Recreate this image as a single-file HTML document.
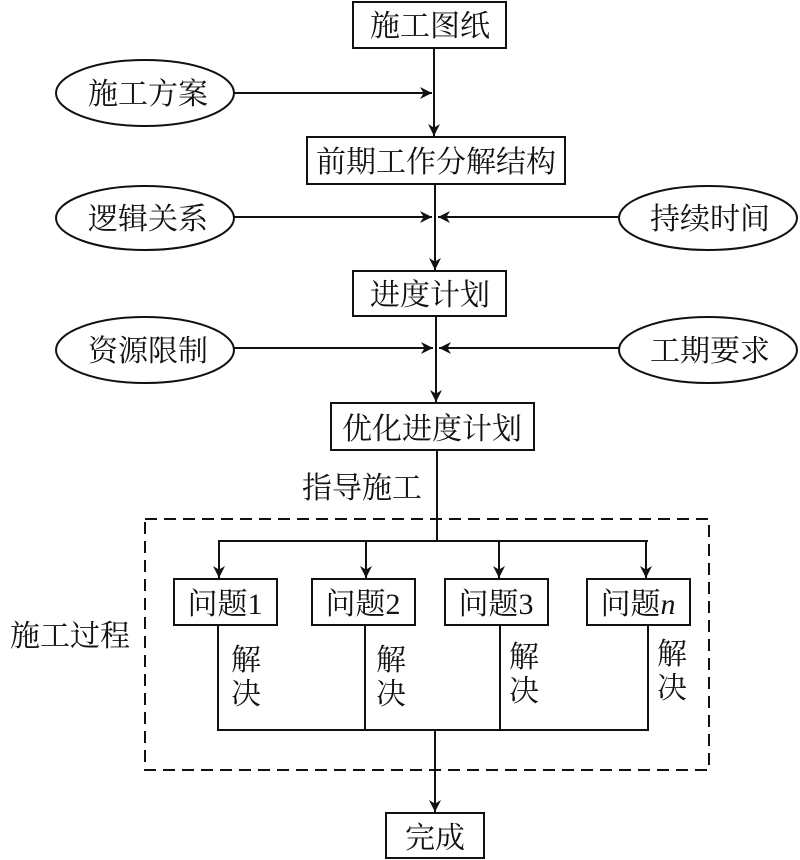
<!DOCTYPE html>
<html><head><meta charset="utf-8"><style>
html,body{margin:0;padding:0;background:#fff;}
svg{display:block;}
text{font-family:"Liberation Serif","Noto Serif CJK SC",serif;font-size:30px;fill:#111;}
</style></head><body>
<svg width="800" height="860" viewBox="0 0 800 860" xmlns="http://www.w3.org/2000/svg">
<defs>
<marker id="a" viewBox="0 0 10 10" refX="10" refY="5" markerWidth="15" markerHeight="12" markerUnits="userSpaceOnUse" orient="auto">
<path d="M0,0 L10,5 L0,10 L3,5 z" fill="#111"/></marker>
</defs>
<g stroke="#111" stroke-width="2" fill="none">
<rect x="353" y="2" width="153" height="46"/>
<rect x="307" y="137" width="258" height="47"/>
<rect x="353" y="271" width="153" height="45"/>
<rect x="331" y="403" width="203" height="47"/>
<rect x="386" y="813" width="98" height="45"/>
<rect x="174" y="579" width="103" height="46"/>
<rect x="312" y="579" width="103" height="46"/>
<rect x="445" y="579" width="103" height="46"/>
<rect x="587" y="579" width="103" height="46"/>
<ellipse cx="145" cy="93" rx="89" ry="33"/>
<ellipse cx="145" cy="218" rx="89" ry="32"/>
<ellipse cx="708" cy="218" rx="89" ry="32"/>
<ellipse cx="145" cy="350" rx="89" ry="33"/>
<ellipse cx="708" cy="350" rx="89" ry="33"/>
<rect x="145" y="519" width="564" height="251" stroke-dasharray="12,7"/>
<line x1="434" y1="48" x2="434" y2="136" marker-end="url(#a)"/>
<line x1="234" y1="93" x2="432" y2="93" marker-end="url(#a)"/>
<line x1="435" y1="184" x2="435" y2="270" marker-end="url(#a)"/>
<line x1="234" y1="217" x2="432" y2="217" marker-end="url(#a)"/>
<line x1="619" y1="217" x2="438" y2="217" marker-end="url(#a)"/>
<line x1="436" y1="316" x2="436" y2="402" marker-end="url(#a)"/>
<line x1="234" y1="348" x2="433" y2="348" marker-end="url(#a)"/>
<line x1="619" y1="348" x2="439" y2="348" marker-end="url(#a)"/>
<line x1="437" y1="450" x2="437" y2="541"/>
<line x1="218" y1="541" x2="648" y2="541"/>
<line x1="219" y1="541" x2="219" y2="578" marker-end="url(#a)"/>
<line x1="366" y1="541" x2="366" y2="578" marker-end="url(#a)"/>
<line x1="499" y1="541" x2="499" y2="578" marker-end="url(#a)"/>
<line x1="646" y1="541" x2="646" y2="578" marker-end="url(#a)"/>
<line x1="218" y1="625" x2="218" y2="730"/>
<line x1="365" y1="625" x2="365" y2="730"/>
<line x1="500" y1="625" x2="500" y2="730"/>
<line x1="648" y1="625" x2="648" y2="730"/>
<line x1="217" y1="730" x2="649" y2="730"/>
<line x1="435" y1="730" x2="435" y2="812" marker-end="url(#a)"/>
</g>
<g text-anchor="middle">
<text x="430" y="36">施工图纸</text>
<text x="148" y="104">施工方案</text>
<text x="436" y="172">前期工作分解结构</text>
<text x="148" y="229">逻辑关系</text>
<text x="710" y="229">持续时间</text>
<text x="430" y="305">进度计划</text>
<text x="148" y="361">资源限制</text>
<text x="710" y="361">工期要求</text>
<text x="432" y="439">优化进度计划</text>
<text x="362" y="498">指导施工</text>
<text x="70" y="646">施工过程</text>
<text x="225" y="614">问题1</text>
<text x="363" y="614">问题2</text>
<text x="496" y="614">问题3</text>
<text x="638" y="614">问题<tspan font-style="italic">n</tspan></text>
<text x="246" y="670">解</text><text x="246" y="704">决</text>
<text x="391" y="670">解</text><text x="391" y="704">决</text>
<text x="524" y="667">解</text><text x="524" y="701">决</text>
<text x="672" y="664">解</text><text x="672" y="698">决</text>
<text x="435" y="848">完成</text>
</g>
</svg>
</body></html>
